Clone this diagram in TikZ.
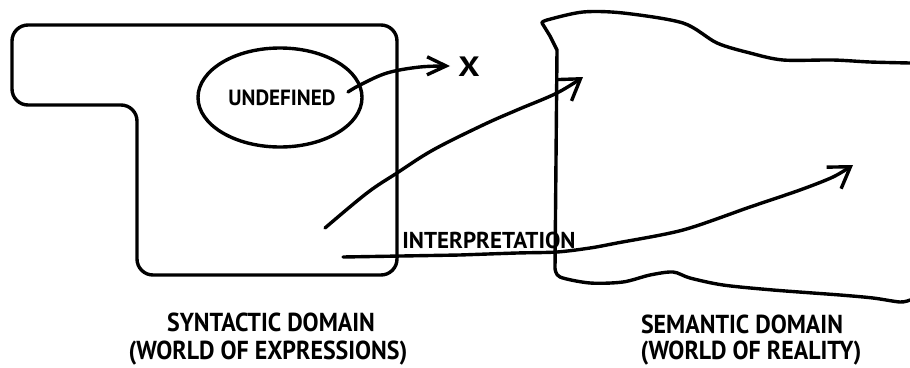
\documentclass[tikz,border=0pt]{standalone}
\usepackage{fontspec}
\setmainfont{PT Sans}
\usetikzlibrary{shapes.geometric,arrows.meta}
\tikzset{
  ink/.style={line width=3.4pt, line cap=round, line join=round},
  barb/.style={-{Straight Barb[length=20pt,width=26pt,line width=3.4pt]}},
  smallbarb/.style={-{Straight Barb[length=19pt,width=18pt,line width=3.4pt]}},
  lbl/.style={font=\bfseries\fontsize{26}{28}\selectfont, inner sep=0pt},
}
\newcommand{\narrow}[1]{\scalebox{0.92}[1]{#1}}
\begin{document}
\begin{tikzpicture}[x=1pt,y=-1pt]
\useasboundingbox (0,0) rectangle (910,367);
% syntactic domain
\draw[ink, rounded corners=16pt] (12,60) -- (12,25) -- (397,25) -- (397,275) -- (137,275) -- (137,105) -- (12,105) -- cycle;
% ellipse
\node[ink, draw, ellipse, minimum width=164pt, minimum height=99pt, inner sep=0pt,
      font=\bfseries\fontsize{22}{24}\selectfont] (undef) at (280,97.5) {\hspace*{4pt}\scalebox{0.96}[1]{UNDEFINED}};
\coordinate (a1s) at (348,92);
\node[inner sep=0pt, font=\bfseries\fontsize{28}{30}\selectfont] (x) at (469,67) {\scalebox{1.2}[1]{X}};
\coordinate (a1e) at (450,66);
\draw[ink, smallbarb] plot[smooth, tension=0.6] coordinates {(348,92) (360,85) (387,73) (420,67) (450,66)};
% semantic domain outline
\draw[ink] plot[smooth, tension=0.5] coordinates {(910,63) (870,62) (833,60) (783,60) (750,53) (717,43) (683,23) (623,13) (583,12) (547,20) (542,23)}
  -- (550,36) -- (557,50) -- (556,160) -- (555,268)
  plot[smooth, tension=0.5] coordinates {(555,268) (560,277) (590,283) (623,282) (650,275) (673,272) (690,278) (723,285) (773,290) (840,295) (873,298) (900,302) (910,300)};
% arrow 2
\coordinate (a2s) at (325,228);
\coordinate (a2e) at (583,77);
\draw[ink, barb] plot[smooth, tension=0.6] coordinates {(325,228) (367,193) (397,173) (433,150) (483,125) (517,110) (557,93) (583,77)};
% interpretation arrow
\coordinate (a3s) at (343,257);
\coordinate (a3e) at (853,165);
\draw[ink, barb] (a3s) -- (460,255) plot[smooth, tension=0.5] coordinates {(460,255) (517,253) (557,252) (590,248) (617,243) (683,230) (750,207) (800,190) (833,177) (853,165)};
\node[lbl, font=\bfseries\fontsize{23}{25}\selectfont] (interp) at (489,240) {INTERPRETATION};
% labels
\node[lbl] (syn1) at (271,322) {\narrow{SYNTACTIC DOMAIN}};
\node[lbl] (syn2) at (268,353) {\narrow{(WORLD OF EXPRESSIONS)}};
\node[lbl] (sem1) at (742,324) {\narrow{SEMANTIC DOMAIN}};
\node[lbl] (sem2) at (751,353) {\narrow{(WORLD OF REALITY)}};
\end{tikzpicture}
\end{document}
